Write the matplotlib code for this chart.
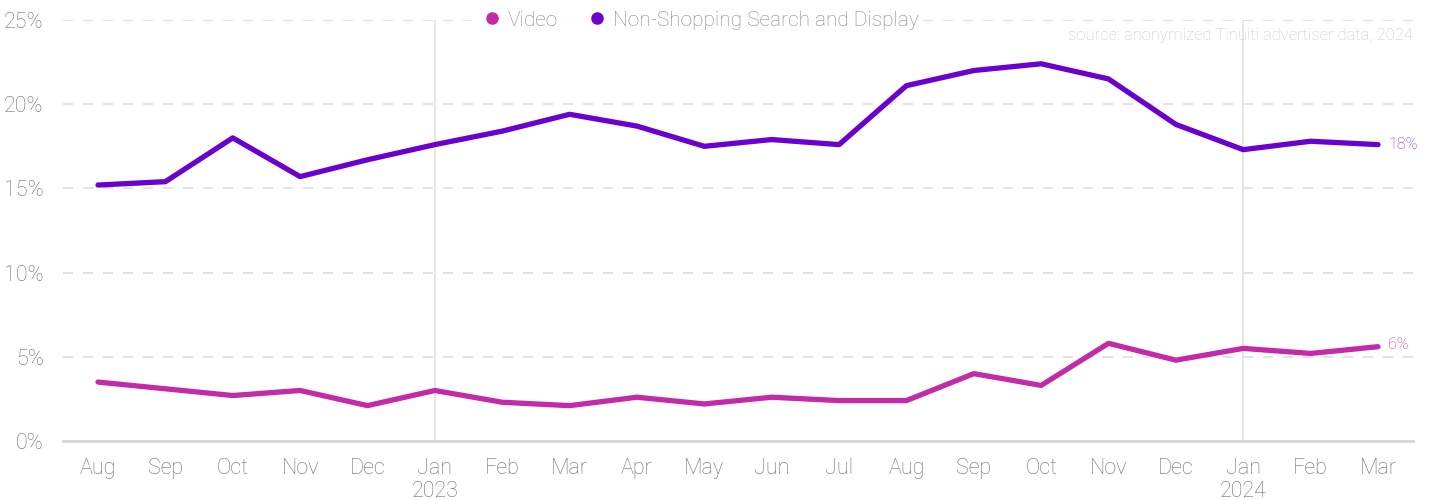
import matplotlib.pyplot as plt
from matplotlib.lines import Line2D

plt.rcParams['font.family'] = ['Roboto', 'DejaVu Sans']

months = ["Aug", "Sep", "Oct", "Nov", "Dec", "Jan\n2023", "Feb", "Mar", "Apr", "May",
          "Jun", "Jul", "Aug", "Sep", "Oct", "Nov", "Dec", "Jan\n2024", "Feb", "Mar"]
video = [3.5, 3.1, 2.7, 3.0, 2.1, 3.0, 2.3, 2.1, 2.6, 2.2,
         2.6, 2.4, 2.4, 4.0, 3.3, 5.8, 4.8, 5.5, 5.2, 5.6]
non_shopping = [15.2, 15.4, 18.0, 15.7, 16.7, 17.6, 18.4, 19.4, 18.7, 17.5,
                17.9, 17.6, 21.1, 22.0, 22.4, 21.5, 18.8, 17.3, 17.8, 17.6]
year_starts = [5, 17]

video_color = "#c22aa8"
nss_color = "#6a00d0"
text_gray = "#6e6e6e"

fig = plt.figure(figsize=(14.31, 5), dpi=100)
ax = fig.add_axes([63 / 1431, 59 / 500, 1350 / 1431, 421 / 500])

x = list(range(len(months)))
ax.plot(x, non_shopping, color=nss_color, lw=3.8, solid_capstyle='round', solid_joinstyle='round', zorder=3)
ax.plot(x, video, color=video_color, lw=3.8, solid_capstyle='round', solid_joinstyle='round', zorder=3)

# end labels
ax.text(x[-1] + 0.15, non_shopping[-1], f"{non_shopping[-1]:.0f}%", color="#8030d8",
        fontsize=11.5, va='center', ha='left', fontweight='light')
ax.text(x[-1] + 0.15, video[-1] + 0.15, f"{video[-1]:.0f}%", color="#c635ad",
        fontsize=11.5, va='center', ha='left', fontweight='light')

for ys in year_starts:
    ax.axvline(ys, color="#e2e2e2", lw=1.2, zorder=1)

ax.set_xlim(-0.52, 19.52)
ax.set_ylim(0, 25)
ax.set_yticks([0, 5, 10, 15, 20, 25])
ax.set_yticklabels([f"{v}%" for v in [0, 5, 10, 15, 20, 25]])
ax.set_xticks(x)
ax.set_xticklabels(months)
ax.tick_params(axis='both', length=0, labelsize=15.5, labelcolor=text_gray)
ax.tick_params(axis='y', pad=14)
ax.tick_params(axis='x', pad=12)
for lbl in ax.get_xticklabels() + ax.get_yticklabels():
    lbl.set_fontweight('light')
    lbl.set_linespacing(1.15)

ax.grid(axis='y', color="#dddddd", lw=1.2, ls=(0, (6, 6)), zorder=0)
for s in ["top", "right", "left"]:
    ax.spines[s].set_visible(False)
ax.spines["bottom"].set_color("#d6d6d6")
ax.spines["bottom"].set_linewidth(2)
ax.spines["bottom"].set_zorder(2)

handles = [Line2D([], [], marker='o', ls='', color=video_color, markersize=8),
           Line2D([], [], marker='o', ls='', color=nss_color, markersize=8)]
leg = ax.legend(handles, ["Video", "Non-Shopping Search and Display"], loc='center',
                bbox_to_anchor=(0.468, 1.0), ncol=2, frameon=True, handletextpad=-0.25,
                columnspacing=0.9, borderpad=0.05, fontsize=15)
leg.get_frame().set_edgecolor('none')
leg.get_frame().set_facecolor('white')
for t in leg.get_texts():
    t.set_color("#858585")
    t.set_fontweight('light')

ax.text(1.0, 0.962, "source: anonymized Tinuiti advertiser data, 2024", transform=ax.transAxes,
        ha='right', va='center', fontsize=12, color="#c8c8c8", fontweight='light')

fig.savefig("out.png", dpi=100)
